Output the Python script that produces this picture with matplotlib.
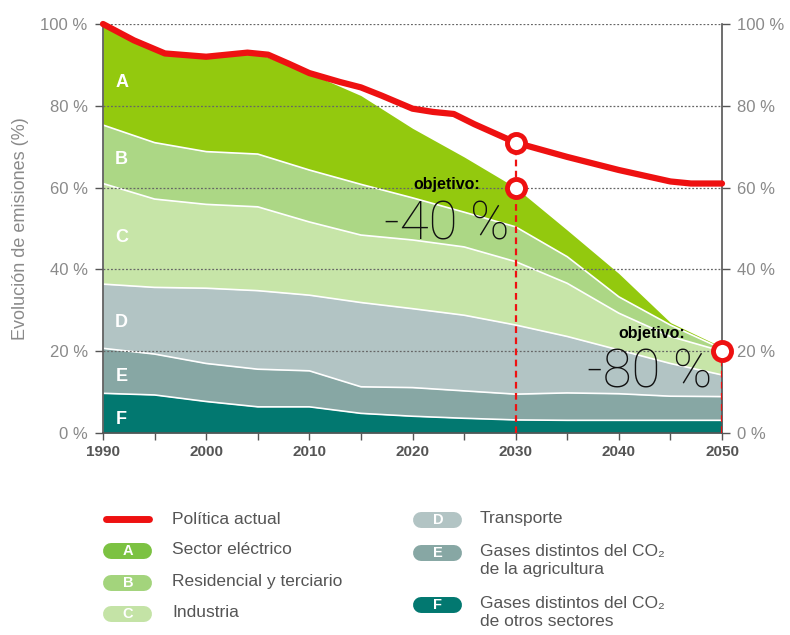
import numpy as np
import matplotlib.pyplot as plt

# --- datos (% respecto a 1990) ---
years = [1990, 1995, 2000, 2005, 2010, 2015, 2020, 2025, 2030, 2035, 2040, 2045, 2050]
# bordes superiores acumulados de cada sector
top_A = [100, 93.5, 92.0, 92.8, 88.0, 82.5, 74.5, 67.5, 60.0, 49.6, 39.0, 27.0, 21.0]
top_B = [75.3, 71.0, 68.8, 68.2, 64.3, 60.8, 57.5, 54.0, 50.4, 43.1, 33.3, 26.4, 20.6]
top_C = [61.0, 57.2, 55.9, 55.3, 51.6, 48.4, 47.2, 45.5, 41.9, 36.6, 29.3, 23.6, 20.0]
top_D = [36.4, 35.6, 35.4, 34.8, 33.7, 31.9, 30.4, 28.8, 26.4, 23.6, 20.3, 17.0, 14.2]
top_E = [20.7, 19.3, 17.0, 15.6, 15.2, 11.3, 11.1, 10.3, 9.5, 9.8, 9.6, 9.0, 8.9]
top_F = [9.7, 9.3, 7.7, 6.4, 6.4, 4.8, 4.1, 3.6, 3.2, 3.1, 3.1, 3.1, 3.1]

policy_years = [1990, 1993, 1996, 2000, 2004, 2006, 2008, 2010, 2013, 2015, 2017, 2020, 2022, 2024, 2026, 2030, 2035, 2040, 2045, 2047, 2050]
policy_vals = [100, 96.0, 92.8, 92.0, 93.0, 92.5, 90.3, 88.0, 85.8, 84.5, 82.5, 79.3, 78.5, 78.0, 75.5, 71.0, 67.5, 64.3, 61.5, 61.0, 61.0]

target_years = [2030, 2050]
target_vals = [60, 20]

letters = ["A", "B", "C", "D", "E", "F"]
letter_y = [85.7, 66.9, 47.8, 27.0, 13.9, 3.3]
colors = ["#93c90e", "#acd785", "#c7e5a8", "#b2c4c4", "#87a7a4", "#027870"]
legend_colors = ["#7cc242", "#a3d47c", "#c4e3a6", "#b2c4c4", "#87a7a4", "#027870"]
labels = ["Sector eléctrico", "Residencial y terciario", "Industria", "Transporte",
          "Gases distintos del CO₂\nde la agricultura", "Gases distintos del CO₂\nde otros sectores"]

red = "#ee1111"
plt.rcParams['font.family'] = ['Liberation Sans', 'DejaVu Sans']

fig = plt.figure(figsize=(7.9, 6.35), dpi=100)
ax = fig.add_axes([103 / 790, 1 - 433 / 635, 619 / 790, 409 / 635])

tops = [top_A, top_B, top_C, top_D, top_E, top_F, [0] * len(years)]
for i in range(6):
    ax.fill_between(years, tops[i + 1], tops[i], color=colors[i], lw=0, zorder=1)
for t in tops[1:6]:
    ax.plot(years, t, color="white", lw=1.2, zorder=2)

for y in [20, 40, 60, 80, 100]:
    ax.axhline(y, color="#666666", lw=0.9, ls=(0, (1.5, 1.5)), zorder=3)

for l, y in zip(letters, letter_y):
    ax.text(1991.8, y, l, color="white", fontsize=13, fontweight="bold",
            ha="center", va="center", zorder=4)

# objetivos
ax.plot([2030, 2030], [0, 71], color=red, ls=(0, (3, 2)), lw=1.6, zorder=4)
ax.plot([2050, 2050], [0, 20], color=red, ls=(0, (3, 2)), lw=1.6, zorder=4)
ax.plot(policy_years, policy_vals, color=red, lw=4.5, solid_capstyle="round",
        solid_joinstyle="round", zorder=5, clip_on=False)
ax.plot([2030] + target_years, [71] + target_vals, ls="none", marker="o", ms=13,
        mfc="white", mec=red, mew=3.5, zorder=6, clip_on=False)

big = dict(fontsize=38, family=["Roboto", "DejaVu Sans"], fontweight="light",
           color="#111111", ha="center", va="center", zorder=7)
ax.text(2023.3, 60.8, "objetivo:", fontsize=11.5, fontweight="bold", ha="center",
        va="center", zorder=7)
ax.text(2023.3, 51.0, "-40 %", **big)
ax.text(2043.2, 24.4, "objetivo:", fontsize=11.5, fontweight="bold", ha="center",
        va="center", zorder=7)
ax.text(2043.0, 14.8, "-80 %", **big)

ax.set_xlim(1990, 2050)
ax.set_ylim(0, 100)
ax.set_xticks(range(1990, 2051, 10))
ax.set_xticks(range(1990, 2051, 5), minor=True)
ax.set_yticks([0, 20, 40, 60, 80, 100])
ax.set_yticklabels([f"{v} %" for v in [0, 20, 40, 60, 80, 100]])
ax.tick_params(axis="x", which="both", direction="out", length=5, width=1,
               color="#555555", labelsize=11, labelcolor="#555555", pad=4)
for t in ax.get_xticklabels():
    t.set_fontweight("bold")
ax.tick_params(axis="y", direction="out", length=6, width=1, color="#555555",
               left=True, right=True, labelleft=True, labelright=True,
               labelsize=12, labelcolor="#8a8a8a", pad=5)
for s in ["left", "right", "bottom"]:
    ax.spines[s].set_color("#555555")
    ax.spines[s].set_linewidth(1.2)
ax.spines["top"].set_visible(False)
ax.set_ylabel("Evolución de emisiones (%)", fontsize=13, color="#8a8a8a", labelpad=8)

# leyenda
def fx(px):
    return px / 790

def fy(py):
    return 1 - py / 635

fig.lines.append(plt.Line2D([fx(106), fx(149)], [fy(519), fy(519)], color=red,
                            lw=5, solid_capstyle="round", transform=fig.transFigure))
fig.text(fx(172), fy(519), "Política actual", fontsize=12.5, color="#555555", va="center")

pill_x = [103, 103, 103, 413, 413, 413]
text_x = [172, 172, 172, 480, 480, 480]
row_y = [551, 583, 614, 520, 553, 605]
for i in range(6):
    x0, yc = pill_x[i], row_y[i]
    fig.lines.append(plt.Line2D([fx(x0 + 8), fx(x0 + 41)], [fy(yc), fy(yc)],
                                color=legend_colors[i], lw=11.5, solid_capstyle="round",
                                transform=fig.transFigure))
    fig.text(fx(x0 + 25), fy(yc), letters[i], color="white", fontsize=10.5,
             fontweight="bold", ha="center", va="center")
    fig.text(fx(text_x[i]), fy(yc - 9), labels[i], fontsize=12.5, color="#555555",
             va="top", linespacing=1.25)

fig.savefig("out.png", dpi=100)
